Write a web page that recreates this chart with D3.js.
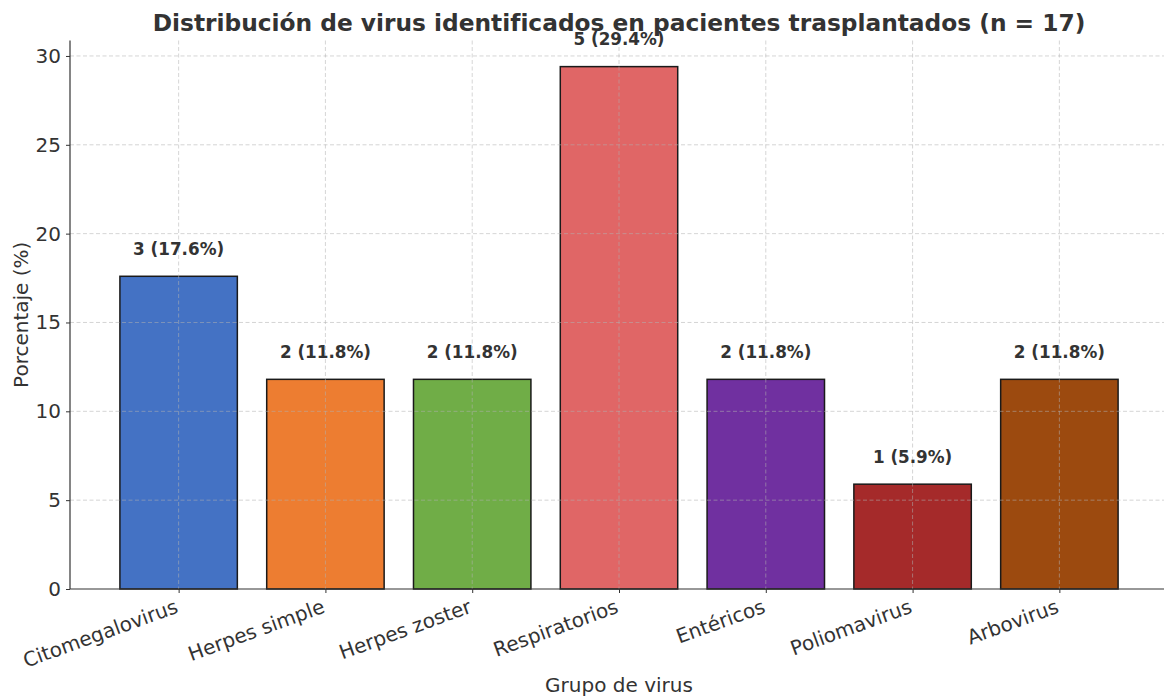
<!DOCTYPE html>
<html lang="es">
<head>
<meta charset="UTF-8">
<script src="https://cdnjs.cloudflare.com/ajax/libs/d3/7.8.5/d3.min.js"></script>
<style>
  body { margin: 0; background: #fff; }
  svg text { font-family: "DejaVu Sans", sans-serif; fill: #333; }
</style>
</head>
<body>
<div id="chart"></div>
<script>
const categories = ['Citomegalovirus', 'Herpes simple', 'Herpes zoster', 'Respiratorios', 'Entéricos', 'Poliomavirus', 'Arbovirus'];
const counts = [3, 2, 2, 5, 2, 1, 2];
const percents = [17.6, 11.8, 11.8, 29.4, 11.8, 5.9, 11.8];
const colors = ['#4472C4', '#ED7D31', '#70AD47', '#E06666', '#7030A0', '#A52A2A', '#9C4A0F'];
const yTicks = [0, 5, 10, 15, 20, 25, 30];

const width = 1164, height = 696;
const left = 70, bottom = 589;
// x domain in "category index" units, like matplotlib's xlim with margins
const x = d3.scaleLinear().domain([-0.74, 6.74]).range([left, 1168]);
const y = d3.scaleLinear().domain([0, 30.87]).range([bottom, 40.5]);
const barW = x(0.4) - x(-0.4);

const svg = d3.select('#chart').append('svg')
    .attr('width', width)
    .attr('height', height);

//Bars
svg.selectAll('rect.bar')
    .data(percents)
    .enter()
    .append('rect')
    .attr('class', 'bar')
    .attr('x', (d, i) => x(i) - barW / 2)
    .attr('y', d => y(d))
    .attr('width', barW)
    .attr('height', d => bottom - y(d))
    .style('fill', (d, i) => colors[i])
    .style('stroke', '#1a1a1a')
    .style('stroke-width', 1.5);

//Grid (on top of bars)
const grid = svg.append('g');
grid.selectAll('line.h')
    .data(yTicks.slice(1))
    .enter()
    .append('line')
    .attr('x1', left).attr('x2', width)
    .attr('y1', d => y(d)).attr('y2', d => y(d))
    .style('stroke', '#b0b0b0').style('stroke-opacity', 0.6)
    .style('stroke-dasharray', '4,2.5').style('stroke-width', 0.9);
grid.selectAll('line.v')
    .data(categories)
    .enter()
    .append('line')
    .attr('x1', (d, i) => x(i)).attr('x2', (d, i) => x(i))
    .attr('y1', y.range()[1]).attr('y2', bottom)
    .style('stroke', '#b0b0b0').style('stroke-opacity', 0.6)
    .style('stroke-dasharray', '4,2.5').style('stroke-width', 0.9);

//Axis Y
const yAxis = svg.append('g')
    .attr('transform', `translate(${left},0)`)
    .call(d3.axisLeft(y).tickValues(yTicks).tickSize(4).tickPadding(5));
yAxis.select('.domain').style('stroke', '#333').style('stroke-width', 1.2)
    .attr('d', `M0,${y.range()[1]}V${bottom}`);
yAxis.selectAll('.tick line').style('stroke', '#333');
yAxis.selectAll('.tick text').style('font-size', '20px').style('fill', '#333');

//Axis X
const xAxis = svg.append('g')
    .attr('transform', `translate(0,${bottom})`)
    .call(d3.axisBottom(x).tickValues(d3.range(categories.length)).tickFormat(i => categories[i]).tickSize(4));
xAxis.select('.domain').style('stroke', '#333').style('stroke-width', 1.2)
    .attr('d', `M${left},0H${width}`);
xAxis.selectAll('.tick line').style('stroke', '#333');
xAxis.selectAll('.tick text')
    .style('font-size', '20px')
    .style('fill', '#333')
    .attr('text-anchor', 'end')
    .attr('dy', null)
    .attr('y', 0)
    .attr('transform', 'translate(-5,9) rotate(-20) translate(0,15)');

//Value labels
svg.selectAll('text.val')
    .data(percents)
    .enter()
    .append('text')
    .attr('class', 'val')
    .attr('x', (d, i) => x(i))
    .attr('y', d => y(d + 1) - 3.5)
    .attr('text-anchor', 'middle')
    .style('font-size', '16.8px')
    .style('font-weight', 'bold')
    .text((d, i) => `${counts[i]} (${d}%)`);

//Title
svg.append('text')
    .attr('x', (left + 1168) / 2)
    .attr('y', 31)
    .attr('text-anchor', 'middle')
    .style('font-size', '23.3px')
    .style('font-weight', 'bold')
    .text('Distribución de virus identificados en pacientes trasplantados (n = 17)');

//Axis labels
svg.append('text')
    .attr('x', (left + 1168) / 2)
    .attr('y', 692)
    .attr('text-anchor', 'middle')
    .style('font-size', '20px')
    .text('Grupo de virus');
svg.append('text')
    .attr('transform', `translate(28,${(bottom + 40.5) / 2}) rotate(-90)`)
    .attr('text-anchor', 'middle')
    .style('font-size', '20px')
    .text('Porcentaje (%)');
</script>
</body>
</html>
